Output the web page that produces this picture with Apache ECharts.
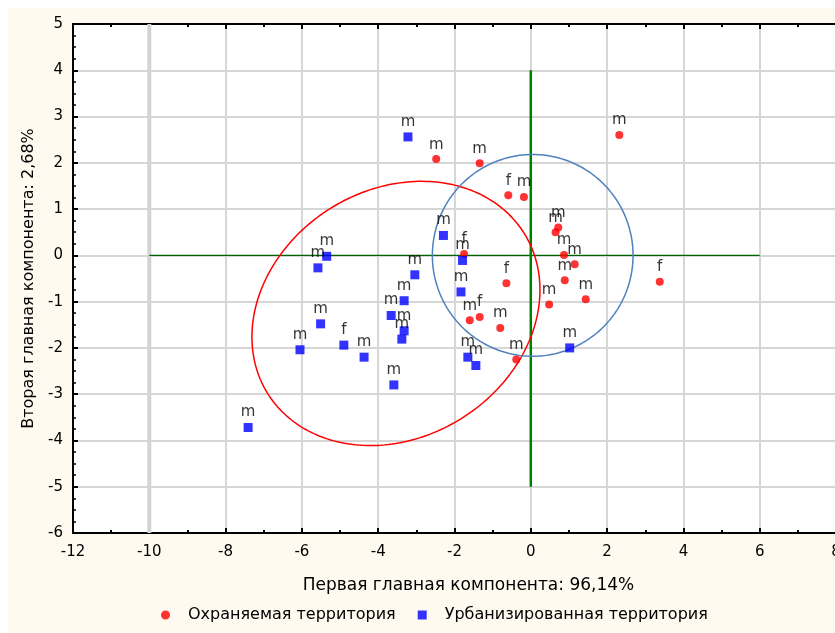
<!DOCTYPE html>
<html>
<head>
<meta charset="utf-8">
<script src="https://cdn.jsdelivr.net/npm/echarts@6/dist/echarts.min.js"></script>
<style>
html,body{margin:0;padding:0;background:#ffffff;}
#c{width:835px;height:633px;}
</style>
</head>
<body>
<div id="c"></div>
<script>
// ---- data ----
const seriesNames = ['Охраняемая территория', 'Урбанизированная территория'];
const xAxisName = 'Первая главная компонента: 96,14%';
const yAxisName = 'Вторая главная компонента: 2,68%';

const protectedX = [-2.48, -1.34, -0.59, -0.18, -1.75, -0.64, -1.60, -1.34, -0.80, -0.38, 2.32, 0.72, 0.65, 0.87, 1.15, 0.89, 1.44, 0.48, 3.38];
const protectedY = [2.08, 1.99, 1.30, 1.26, 0.03, -0.60, -1.40, -1.33, -1.57, -2.25, 2.60, 0.60, 0.50, 0.01, -0.19, -0.54, -0.95, -1.06, -0.57];
const protectedSex = ['m', 'm', 'f', 'm', 'f', 'f', 'm', 'f', 'm', 'm', 'm', 'm', 'm', 'm', 'm', 'm', 'm', 'm', 'f'];

const urbanX = [-3.22, -2.29, -1.79, -5.35, -5.58, -3.04, -1.83, -3.32, -3.66, -3.32, -3.38, -5.51, -6.05, -4.90, -4.37, -3.59, -1.65, -1.44, 1.02, -7.41];
const urbanY = [2.56, 0.43, -0.11, -0.02, -0.27, -0.42, -0.79, -0.98, -1.30, -1.63, -1.81, -1.48, -2.04, -1.94, -2.20, -2.80, -2.20, -2.38, -2.00, -3.72];
const urbanSex = ['m', 'm', 'm', 'm', 'm', 'm', 'm', 'm', 'm', 'm', 'm', 'm', 'm', 'f', 'm', 'm', 'm', 'm', 'm', 'm'];

// ellipses: centre x, centre y, half-width x, half-height y, x-y coupling
const protectedEllipse = [-3.535, -1.255, 3.775, 2.855, 1.92];
const urbanEllipse = [0.05, 0.0, 2.63, 2.18, 0];

// reference lines
const verticalRef = [[0, -5], [0, 4]];
const horizontalRef = [[-10, 0], [6, 0]];
const grayRef = [[-10, -6], [-10, 5]];

const xTicks = {min: -12, max: 8, step: 2};
const yTicks = {min: -6, max: 5, step: 1};

// ---- chart ----
const FONT = '"DejaVu Sans", Verdana, sans-serif';
const chart = echarts.init(document.getElementById('c'));

function pts(xs, ys, labs) { return xs.map((x, i) => [x, ys[i], labs[i]]); }

function ellipseItem(params, api) {
  const cx = api.value(0), cy = api.value(1), sx = api.value(2), sy = api.value(3), c = api.value(4);
  const a2 = c / sx;
  const b2 = Math.sqrt(Math.max(sy * sy - a2 * a2, 0));
  const points = [];
  for (let k = 0; k <= 240; k++) {
    const t = k / 240 * Math.PI * 2;
    points.push(api.coord([cx + sx * Math.cos(t), cy + a2 * Math.cos(t) + b2 * Math.sin(t)]));
  }
  return {
    type: 'polyline',
    shape: {points: points},
    style: {stroke: api.visual('color'), lineWidth: 1.5, fill: null}
  };
}

const tickLabel = {color: '#000', fontSize: 15, fontFamily: FONT};

chart.setOption({
  backgroundColor: '#fefaf0',
  animation: false,
  graphic: [
    {type: 'rect', left: 0, top: 0, shape: {width: 8, height: 633}, style: {fill: '#ffffff'}, z: 100},
    {type: 'rect', left: 0, top: 0, shape: {width: 835, height: 8}, style: {fill: '#ffffff'}, z: 100}
  ],
  grid: {left: 73, top: 24, right: -1, bottom: 100, outerBoundsMode: 'none', containLabel: false, show: true, backgroundColor: '#ffffff', borderWidth: 0},
  legend: {
    bottom: 5,
    left: 156,
    itemGap: 22,
    itemWidth: 9,
    itemHeight: 9,
    textStyle: {color: '#000', fontSize: 16, fontFamily: FONT, padding: [0, 0, 0, 13]},
    data: [
      {name: seriesNames[0], icon: 'circle'},
      {name: seriesNames[1], icon: 'rect'}
    ]
  },
  xAxis: [{
    type: 'value',
    min: xTicks.min, max: xTicks.max, interval: xTicks.step,
    name: xAxisName,
    nameLocation: 'middle',
    nameGap: 44,
    nameTextStyle: {color: '#000', fontSize: 17, fontFamily: FONT, padding: [0, 0, 0, 28]},
    axisLine: {onZero: false, lineStyle: {color: '#000', width: 2}},
    axisTick: {inside: true, length: 5, lineStyle: {color: '#000', width: 2}},
    minorTick: {show: true, splitNumber: 2, length: 3, lineStyle: {color: '#000', width: 2}},
    axisLabel: Object.assign({margin: 12}, tickLabel),
    splitLine: {show: true, lineStyle: {color: '#d6d6d6', width: 2}}
  }, {
    type: 'value',
    position: 'top',
    min: xTicks.min, max: xTicks.max, interval: xTicks.step,
    axisLine: {onZero: false, lineStyle: {color: '#000', width: 2}},
    axisTick: {inside: true, length: 5, lineStyle: {color: '#000', width: 2}},
    minorTick: {show: true, splitNumber: 2, length: 3, lineStyle: {color: '#000', width: 2}},
    axisLabel: {show: false},
    splitLine: {show: false}
  }],
  yAxis: {
    type: 'value',
    min: yTicks.min, max: yTicks.max, interval: yTicks.step,
    name: yAxisName,
    nameLocation: 'middle',
    nameGap: 35,
    nameRotate: 90,
    nameTextStyle: {color: '#000', fontSize: 16, fontFamily: FONT},
    axisLine: {onZero: false, lineStyle: {color: '#000', width: 2}},
    axisTick: {inside: true, length: 5, lineStyle: {color: '#000', width: 2}},
    minorTick: {show: true, splitNumber: 4, length: 3, lineStyle: {color: '#000', width: 1.5}},
    axisLabel: Object.assign({margin: 10}, tickLabel),
    splitLine: {show: true, lineStyle: {color: '#d6d6d6', width: 2}}
  },
  series: [
    {
      type: 'line', data: grayRef, symbol: 'none', silent: true, z: 1,
      lineStyle: {color: '#d3d3d3', width: 4}
    },
    {
      type: 'line', data: horizontalRef, symbol: 'none', silent: true, z: 2,
      lineStyle: {color: '#006400', width: 1.2}
    },
    {
      type: 'line', data: verticalRef, symbol: 'none', silent: true, z: 2,
      lineStyle: {color: '#008000', width: 2.5}
    },
    {
      type: 'custom', renderItem: ellipseItem, data: [protectedEllipse], z: 3,
      itemStyle: {color: '#ff0000'}, silent: true
    },
    {
      type: 'custom', renderItem: ellipseItem, data: [urbanEllipse], z: 3,
      itemStyle: {color: '#4f81bd'}, silent: true
    },
    {
      name: seriesNames[0], type: 'scatter', symbol: 'circle', symbolSize: 8, z: 5,
      itemStyle: {color: '#ff0000'},
      data: pts(protectedX, protectedY, protectedSex),
      label: {show: true, position: 'top', distance: 3, formatter: p => p.data[2], color: '#000', fontSize: 15, fontFamily: FONT}
    },
    {
      name: seriesNames[1], type: 'scatter', symbol: 'rect', symbolSize: 9, z: 5,
      itemStyle: {color: '#0000ff'},
      data: pts(urbanX, urbanY, urbanSex),
      label: {show: true, position: 'top', distance: 3, formatter: p => p.data[2], color: '#000', fontSize: 15, fontFamily: FONT}
    }
  ]
});
</script>
</body>
</html>
